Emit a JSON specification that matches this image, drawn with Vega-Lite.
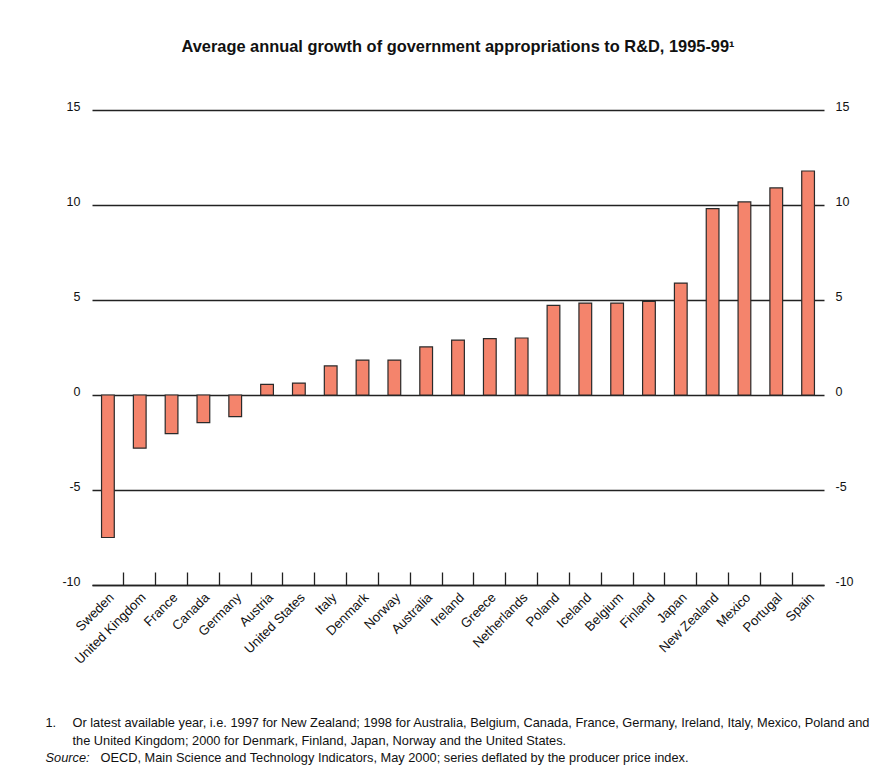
{
  "$schema": "https://vega.github.io/schema/vega-lite/v6.json",
  "autosize": {"type": "none"},
  "width": 732,
  "height": 475,
  "padding": {"left": 92, "top": 110, "right": 53, "bottom": 193},
  "background": "white",
  "title": {
    "text": "Average annual growth of government appropriations to R&D, 1995-99¹",
    "font": "Liberation Sans, Arial, sans-serif",
    "fontSize": 16.4,
    "fontWeight": "bold",
    "color": "#111111",
    "anchor": "middle",
    "offset": 45
  },
  "data": {
    "values": [
      {"country": "Sweden", "growth": -7.5},
      {"country": "United Kingdom", "growth": -2.8},
      {"country": "France", "growth": -2.03},
      {"country": "Canada", "growth": -1.45},
      {"country": "Germany", "growth": -1.14},
      {"country": "Austria", "growth": 0.56},
      {"country": "United States", "growth": 0.63},
      {"country": "Italy", "growth": 1.53},
      {"country": "Denmark", "growth": 1.84},
      {"country": "Norway", "growth": 1.84},
      {"country": "Australia", "growth": 2.53},
      {"country": "Ireland", "growth": 2.89},
      {"country": "Greece", "growth": 2.97},
      {"country": "Netherlands", "growth": 3.0},
      {"country": "Poland", "growth": 4.72},
      {"country": "Iceland", "growth": 4.84},
      {"country": "Belgium", "growth": 4.84},
      {"country": "Finland", "growth": 4.93},
      {"country": "Japan", "growth": 5.89},
      {"country": "New Zealand", "growth": 9.81},
      {"country": "Mexico", "growth": 10.16},
      {"country": "Portugal", "growth": 10.9},
      {"country": "Spain", "growth": 11.79}
    ]
  },
  "layer": [
    {
      "mark": {"type": "bar", "fill": "#F4846C", "stroke": "#2a2a2a", "strokeWidth": 1.2},
      "encoding": {
        "x": {
          "field": "country",
          "type": "nominal",
          "sort": null,
          "scale": {"paddingInner": 0.6, "paddingOuter": 0.3},
          "axis": {
            "orient": "bottom",
            "bandPosition": -0.75,
            "labelOffset": 4,
            "labelAngle": -45,
            "labelAlign": "right",
            "labelBaseline": "middle",
            "labelPadding": 23,
            "labelOverlap": false,
            "labelFontSize": 13.2,
            "tickSize": -13,
            "tickOpacity": {"condition": {"test": "datum.value === 'Sweden'", "value": 0}, "value": 1},
            "domain": true,
            "grid": false,
            "title": [
              "Or latest available year, i.e. 1997 for New Zealand; 1998 for Australia, Belgium, Canada, France, Germany, Ireland, Italy, Mexico, Poland and",
              "the United Kingdom; 2000 for Denmark, Finland, Japan, Norway and the United States."
            ],
            "titleX": -20,
            "titleY": 141.5,
            "titleAlign": "left",
            "titleAnchor": "start",
            "titleBaseline": "alphabetic",
            "titleLineHeight": 17.6
          }
        },
        "y": {
          "field": "growth",
          "type": "quantitative",
          "scale": {"domain": [-10, 15], "nice": false},
          "axis": {
            "orient": "left",
            "values": [-10, -5, 0, 5, 10, 15],
            "labelExpr": "replace(datum.label, '\u2212', '-')",
            "grid": true,
            "domain": false,
            "ticks": false,
            "labelPadding": 12,
            "labelBaseline": "alphabetic",
            "title": "1.",
            "titleAngle": 0,
            "titleX": -47,
            "titleY": 616.5,
            "titleAlign": "left",
            "titleBaseline": "alphabetic"
          }
        }
      }
    },
    {
      "mark": {"type": "tick", "opacity": 0},
      "encoding": {
        "x": {
          "field": "country",
          "type": "nominal",
          "sort": null,
          "axis": {
            "orient": "top",
            "labels": false,
            "ticks": false,
            "domain": false,
            "grid": false,
            "title": "OECD, Main Science and Technology Indicators, May 2000; series deflated by the producer price index.",
            "titleX": 8,
            "titleY": 651.7,
            "titleAlign": "left",
            "titleAnchor": "start",
            "titleBaseline": "alphabetic"
          }
        },
        "y": {
          "field": "growth",
          "type": "quantitative",
          "axis": {
            "orient": "right",
            "values": [-10, -5, 0, 5, 10, 15],
            "labelExpr": "replace(datum.label, '\u2212', '-')",
            "grid": false,
            "domain": false,
            "ticks": false,
            "labelPadding": 11,
            "labelBaseline": "alphabetic",
            "title": "Source:",
            "titleAngle": 0,
            "titleX": -779,
            "titleY": 651.7,
            "titleAlign": "left",
            "titleBaseline": "alphabetic",
            "titleFontStyle": "italic"
          }
        }
      }
    }
  ],
  "resolve": {"axis": {"x": "independent", "y": "independent"}},
  "config": {
    "view": {"stroke": null},
    "font": "Liberation Sans, Arial, sans-serif",
    "axis": {
      "labelFont": "Liberation Sans, Arial, sans-serif",
      "labelFontSize": 12.5,
      "labelColor": "#111111",
      "titleFont": "Liberation Sans, Arial, sans-serif",
      "titleFontSize": 12.8,
      "titleFontWeight": "normal",
      "titleColor": "#111111",
      "gridColor": "#222222",
      "gridWidth": 1.3,
      "gridOpacity": 1,
      "domainColor": "#222222",
      "domainWidth": 1.3,
      "tickColor": "#222222",
      "tickWidth": 1.3
    }
  }
}
